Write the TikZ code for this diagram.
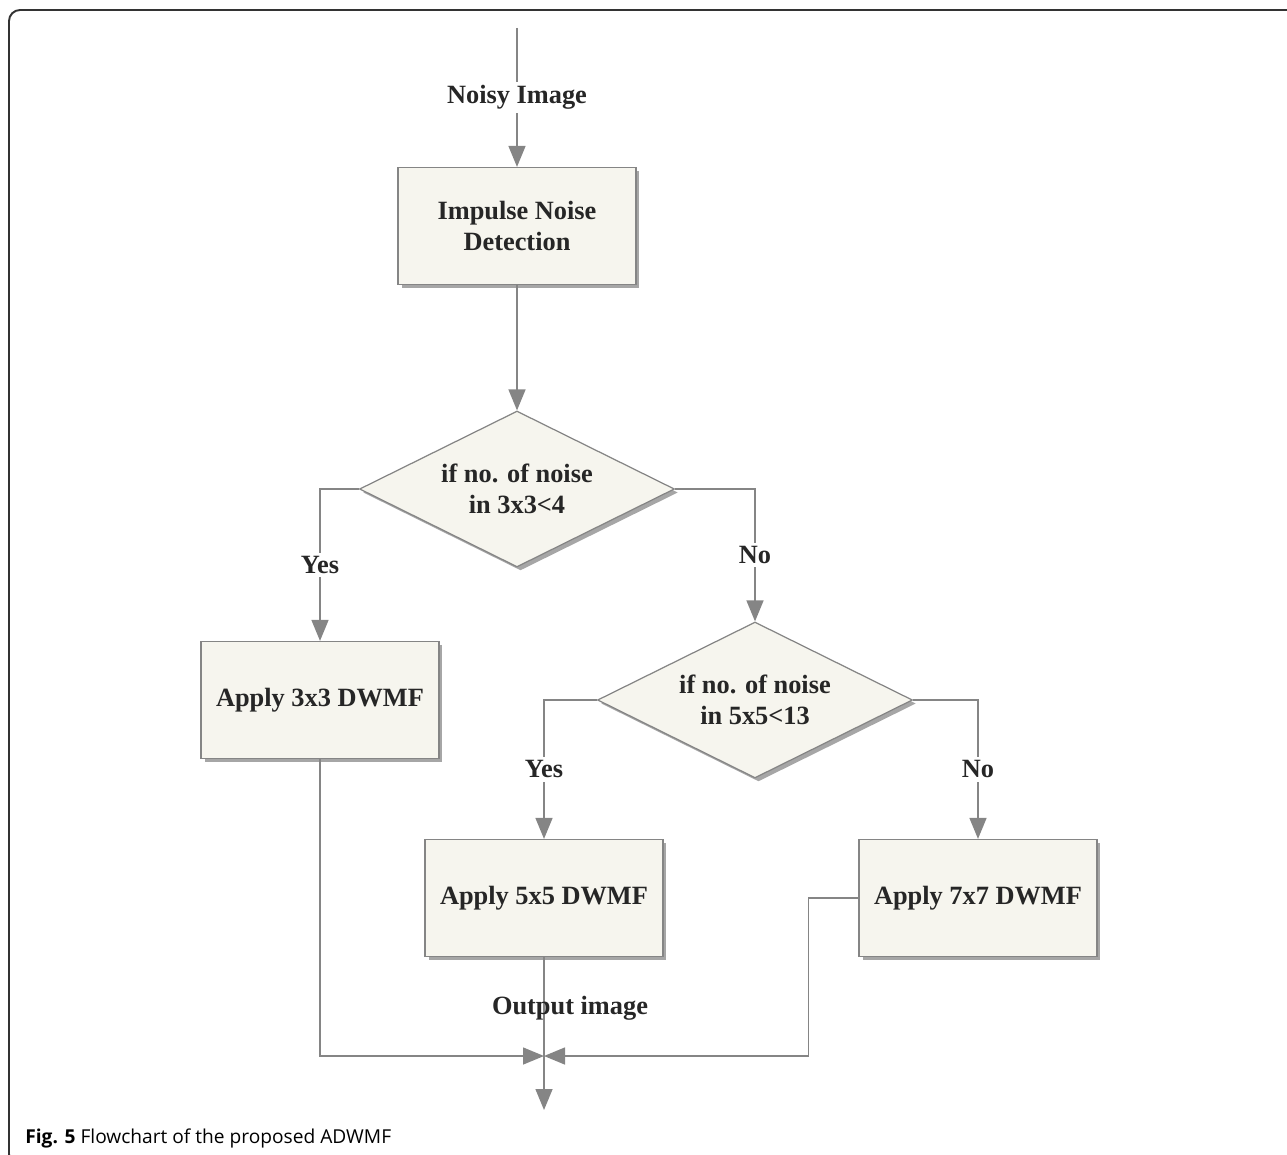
\documentclass[tikz,border=0pt]{standalone}
\usepackage{fontspec}
\setmainfont{Liberation Serif}
\newfontfamily\capfont{Open Sans}
\usetikzlibrary{arrows.meta,shapes.geometric,shadows}
\definecolor{linegray}{HTML}{858585}
\definecolor{boxfill}{HTML}{F6F5EE}
\definecolor{txt}{HTML}{262626}
\definecolor{framec}{HTML}{333333}
\tikzset{
  conn/.style={draw=linegray, line width=0.85pt},
  arr/.style={conn, -{Triangle[length=0.42cm, width=0.34cm, fill=linegray]}},
  procbox/.style={draw=linegray, line width=0.7pt, fill=boxfill, minimum width=4.76cm, minimum height=2.34cm,
    align=center, font=\fontsize{15}{17.5}\selectfont\bfseries, text=txt,
    drop shadow={shadow xshift=0.07cm, shadow yshift=-0.07cm, fill=black, opacity=0.35}},
  decbox/.style={diamond, aspect=2, inner sep=0pt, draw=linegray, line width=0.7pt, fill=boxfill,
    minimum width=6.3cm, minimum height=3.12cm, align=center,
    font=\fontsize{15}{17.5}\selectfont\bfseries, text=txt,
    drop shadow={shadow xshift=0.07cm, shadow yshift=-0.07cm, fill=black, opacity=0.35}},
  lbl/.style={fill=white, inner sep=2pt, font=\fontsize{15}{17}\selectfont\bfseries, text=txt},
}
\begin{document}
\begin{tikzpicture}[x=0.02cm, y=-0.02cm]
\useasboundingbox (0,0) rectangle (1287,1155);
\begin{scope}
\clip (0,0) rectangle (1287,1155);
\draw[framec, line width=1.1pt, rounded corners=0.22cm] (1300,10) -- (9,10) -- (9,1165) -- (40,1165);
\end{scope}

\coordinate (top) at (517,28);
\node[procbox] (b1) at (517,226) {Impulse Noise\\Detection};
\node[decbox] (d1) at (517,489) {if no. of noise\\in 3x3<4};
\node[procbox] (b3) at (320,700) {Apply 3x3 DWMF};
\node[decbox] (d2) at (755,700) {if no. of noise\\in 5x5<13};
\node[procbox] (b5) at (544,898) {Apply 5x5 DWMF};
\node[procbox] (b7) at (978,898) {Apply 7x7 DWMF};
\coordinate (j) at (544,1056);
\coordinate (out) at (544,1110);

\draw[arr] (top) -- node[lbl] {Noisy Image} (b1.north);
\draw[arr] (b1.south) -- (d1.north);
\draw[arr] (d1.west) -| node[lbl, pos=0.75] {Yes} (b3.north);
\draw[arr] (d1.east) -| node[lbl, pos=0.75] {No} (d2.north);
\draw[arr] (d2.west) -| node[lbl, pos=0.75] {Yes} (b5.north);
\draw[arr] (d2.east) -| node[lbl, pos=0.75] {No} (b7.north);
\draw[arr] (b5.south) -- (out);
\node[font=\fontsize{15}{17}\selectfont\bfseries, text=txt] (outlbl) at (570,1008) {Output image};
\draw[arr] (b3.south) |- (j);
\draw[arr] (b7.west) -- ++(-50,0) |- (j);

\node[anchor=base west, inner sep=0pt, font=\capfont\fontsize{10.9}{13}\selectfont, text=black] (cap) at (25,1143)
  {\textbf{Fig. 5} Flowchart of the proposed ADWMF};
\end{tikzpicture}
\end{document}
